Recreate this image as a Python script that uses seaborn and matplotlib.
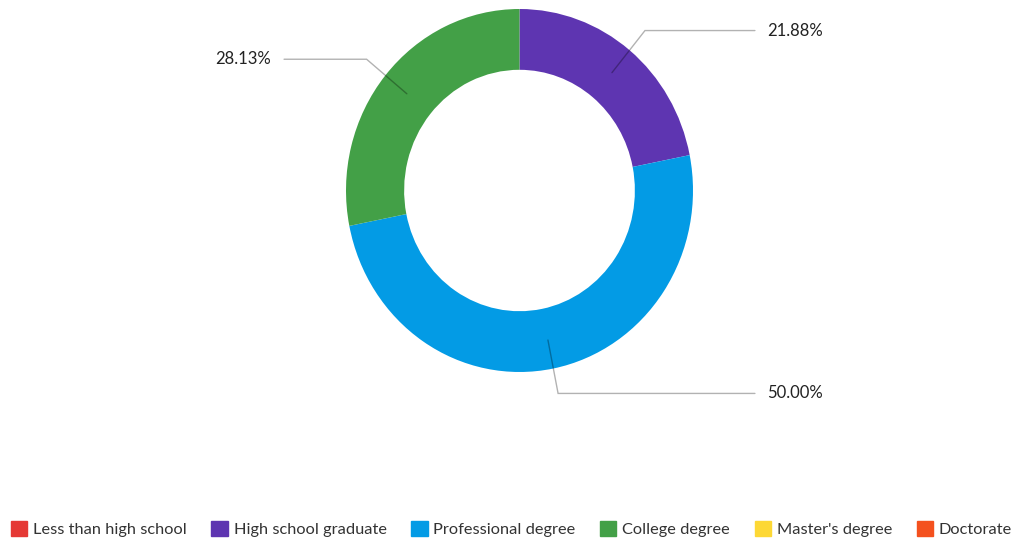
import numpy as np
import matplotlib
matplotlib.use("Agg")
import matplotlib.pyplot as plt
import seaborn as sns
from matplotlib.patches import Patch
from decimal import Decimal, ROUND_HALF_UP

categories = ["Less than high school", "High school graduate", "Professional degree",
              "College degree", "Master's degree", "Doctorate"]
values = [0, 7, 16, 9, 0, 0]
colors = ["#e53935", "#5e35b1", "#039be5", "#43a047", "#fdd835", "#f4511e"]

sns.set_theme(style="white")
plt.rcParams['font.family'] = ['Lato', 'DejaVu Sans']

fig = plt.figure(figsize=(10.16, 5.41), dpi=100)
ax = fig.add_axes([346 / 1016, 1 - 372 / 541, 347 / 1016, 363 / 541])

idx = [i for i, v in enumerate(values) if v > 0]
vals = [values[i] for i in idx]
cols = [colors[i] for i in idx]
wedges, _ = ax.pie(vals, colors=cols, startangle=90, counterclock=False,
                   radius=1.0, wedgeprops=dict(width=0.335, linewidth=0))
ax.set_aspect('auto')
ax.set_xlim(-1, 1)
ax.set_ylim(-1, 1)
ax.axis('off')

total = sum(values)
for w, v in zip(wedges, vals):
    mid = np.deg2rad((w.theta1 + w.theta2) / 2)
    c, s = np.cos(mid), np.sin(mid)
    side = 1 if c >= 0 else -1
    x0, y0 = 0.84 * c, 0.84 * s
    x1, y1 = 1.14 * c, 1.14 * s
    x2 = side * 1.357
    ax.plot([x0, x1, x2], [y0, y1, y1], color="black", alpha=0.3, lw=1.0, clip_on=False,
            solid_joinstyle='miter')
    pct = Decimal(str(v / total * 100)).quantize(Decimal("0.01"), rounding=ROUND_HALF_UP)
    ax.text(side * 1.43, y1, f"{pct}%", ha='left' if side > 0 else 'right',
            va='center', fontsize=12, color="#222222")

handles = [Patch(facecolor=c, edgecolor=c, label=l) for c, l in zip(colors, categories)]
fig.legend(handles=handles, loc='center', bbox_to_anchor=(511.5 / 1016, 1 - 529 / 541),
           ncol=6, frameon=False, fontsize=11.8, handlelength=1.0, handleheight=1.0,
           handletextpad=0.35, columnspacing=1.5, labelcolor="#333333")

fig.savefig("out.png", dpi=100, facecolor="white")
